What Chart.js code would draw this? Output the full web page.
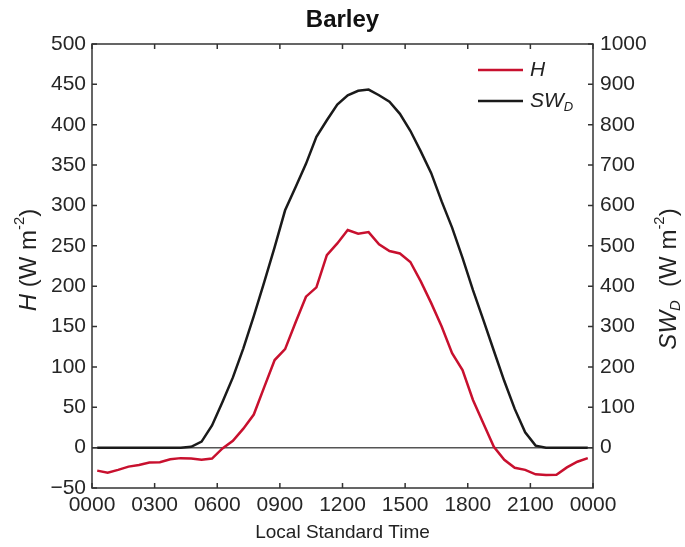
<!DOCTYPE html>
<html>
<head>
<meta charset="utf-8">
<script src="https://cdn.jsdelivr.net/npm/chart.js@4.4.1/dist/chart.umd.min.js"></script>
<style>
  body { margin: 0; background: #fff; }
  #chart { display: block; }
</style>
</head>
<body>
<canvas id="chart" width="685" height="547"></canvas>
<script>
// half-hourly averages (hour of day, mid-interval)
const times = [0.25, 0.75, 1.25, 1.75, 2.25, 2.75, 3.25, 3.75, 4.25, 4.75, 5.25, 5.75,
  6.25, 6.75, 7.25, 7.75, 8.25, 8.75, 9.25, 9.75, 10.25, 10.75, 11.25, 11.75,
  12.25, 12.75, 13.25, 13.75, 14.25, 14.75, 15.25, 15.75, 16.25, 16.75, 17.25, 17.75,
  18.25, 18.75, 19.25, 19.75, 20.25, 20.75, 21.25, 21.75, 22.25, 22.75, 23.25, 23.75];

// sensible heat flux H (W m-2), left axis
const hFlux = [-28.5, -31, -27.5, -23.5, -21.5, -18.5, -18, -14.5, -13, -13.5, -15, -13.5,
  -1, 8.5, 23.5, 41, 75, 108.5, 122, 155, 187, 198.5, 238.5, 253,
  269.5, 265, 267, 252, 243.5, 240.5, 230, 206, 179, 150, 117, 96,
  59, 30, 1, -15, -25, -27.5, -33, -34, -33.5, -24.5, -17.5, -13];

// downwelling shortwave SW_D (W m-2), right axis
const swDown = [0, 0, 0, 0, 0, 0, 0, 0, 0, 2, 15, 55,
  113, 174, 246, 326, 410, 497, 588, 645, 703, 770, 811, 850,
  873, 884, 887, 873, 857, 827, 785, 734, 680, 610, 545, 470,
  390, 316, 240, 165, 96, 38, 5, 0, 0, 0, 0, 0];

const xTickLabels = ['0000', '0300', '0600', '0900', '1200', '1500', '1800', '2100', '0000'];

const FONT = '"Liberation Sans", Arial, Helvetica, sans-serif';
const RED = '#c8102e';
const AXIS = '#333333';

// draw text made of pieces (italic / superscript / subscript), centred at x,y
function richText(ctx, parts, x, y, size) {
  const fontFor = p => (p.i ? 'italic ' : '') + (p.sup || p.sub ? size * 0.62 : size) + 'px ' + FONT;
  let total = 0;
  parts.forEach(p => { ctx.font = fontFor(p); p.w = ctx.measureText(p.t).width; total += p.w; });
  let cx = x - total / 2;
  ctx.textAlign = 'left';
  ctx.textBaseline = 'middle';
  parts.forEach(p => {
    ctx.font = fontFor(p);
    let dy = 0;
    if (p.sup) dy = -size * 0.38;
    if (p.sub) dy = size * 0.3;
    ctx.fillText(p.t, cx, y + dy);
    cx += p.w;
  });
  return total;
}

const extras = {
  id: 'extras',
  beforeDatasetsDraw(chart) {
    const { ctx, chartArea: a, scales } = chart;
    const y0 = scales.y.getPixelForValue(0);
    ctx.save();
    ctx.strokeStyle = '#555';
    ctx.lineWidth = 1.5;
    ctx.beginPath();
    ctx.moveTo(a.left, y0);
    ctx.lineTo(a.right, y0);
    ctx.stroke();
    ctx.restore();
  },
  afterDraw(chart) {
    const { ctx, chartArea: a, scales } = chart;
    const tick = 5;
    ctx.save();
    ctx.strokeStyle = AXIS;
    ctx.lineWidth = 1.5;
    ctx.strokeRect(a.left, a.top, a.right - a.left, a.bottom - a.top);
    ctx.beginPath();
    scales.x.ticks.forEach(t => {
      const px = scales.x.getPixelForValue(t.value);
      ctx.moveTo(px, a.bottom); ctx.lineTo(px, a.bottom - tick);
      ctx.moveTo(px, a.top); ctx.lineTo(px, a.top + tick);
    });
    scales.y.ticks.forEach(t => {
      const py = scales.y.getPixelForValue(t.value);
      ctx.moveTo(a.left, py); ctx.lineTo(a.left + tick, py);
    });
    scales.y2.ticks.forEach(t => {
      if (t.value < 0) return;
      const py = scales.y2.getPixelForValue(t.value);
      ctx.moveTo(a.right, py); ctx.lineTo(a.right - tick, py);
    });
    ctx.stroke();

    // axis titles
    ctx.fillStyle = '#222';
    ctx.save();
    ctx.translate(29, 260);
    ctx.rotate(-Math.PI / 2);
    richText(ctx, [{ t: 'H', i: true }, { t: ' (W m' }, { t: '-2', sup: true }, { t: ')' }], 0, 0, 24);
    ctx.restore();
    ctx.save();
    ctx.translate(669, 279);
    ctx.rotate(-Math.PI / 2);
    richText(ctx, [{ t: 'SW', i: true }, { t: 'D', i: true, sub: true }, { t: '  (W m' }, { t: '-2', sup: true }, { t: ')' }], 0, 0, 24);
    ctx.restore();

    // legend
    const legend = [
      { color: RED, parts: [{ t: 'H', i: true }], y: 70 },
      { color: '#1a1a1a', parts: [{ t: 'SW', i: true }, { t: 'D', i: true, sub: true }], y: 101 }
    ];
    legend.forEach(l => {
      ctx.strokeStyle = l.color;
      ctx.lineWidth = 2.5;
      ctx.beginPath();
      ctx.moveTo(478, l.y); ctx.lineTo(523, l.y);
      ctx.stroke();
      ctx.fillStyle = '#222';
      let w = 0;
      l.parts.forEach(p => {
        ctx.font = 'italic ' + (p.sub ? 21 * 0.62 : 21) + 'px ' + FONT;
        w += ctx.measureText(p.t).width;
      });
      richText(ctx, l.parts, 530 + w / 2, l.y, 21);
    });
    ctx.restore();
  }
};

new Chart(document.getElementById('chart'), {
  type: 'line',
  data: {
    datasets: [
      {
        label: 'H',
        data: times.map((t, i) => ({ x: t, y: hFlux[i] })),
        yAxisID: 'y',
        borderColor: RED,
        borderWidth: 2.5,
        pointRadius: 0,
        tension: 0,
        fill: false
      },
      {
        label: 'SWD',
        data: times.map((t, i) => ({ x: t, y: swDown[i] })),
        yAxisID: 'y2',
        borderColor: '#1a1a1a',
        borderWidth: 2.5,
        pointRadius: 0,
        tension: 0,
        fill: false
      }
    ]
  },
  options: {
    responsive: false,
    animation: false,
    layout: { padding: 0 },
    plugins: {
      legend: { display: false },
      tooltip: { enabled: false },
      title: {
        display: true,
        text: 'Barley',
        color: '#111',
        font: { family: FONT, size: 24, weight: 'bold', lineHeight: 1.2 },
        padding: { top: 6, bottom: 9.2 }
      }
    },
    scales: {
      x: {
        type: 'linear',
        min: 0,
        max: 24,
        grid: { display: false, drawTicks: false },
        border: { display: false },
        ticks: {
          stepSize: 3,
          padding: 5,
          color: '#262626',
          font: { family: FONT, size: 21 },
          maxRotation: 0,
          callback: v => xTickLabels[v / 3]
        },
        title: {
          display: true,
          text: 'Local Standard Time',
          color: '#222',
          font: { family: FONT, size: 19 },
          padding: { top: 0, bottom: 3 }
        },
        afterFit: s => { s.height = 59; }
      },
      y: {
        position: 'left',
        min: -50,
        max: 500,
        grid: { display: false, drawTicks: false },
        border: { display: false },
        ticks: {
          stepSize: 50,
          padding: 6,
          color: '#262626',
          font: { family: FONT, size: 21 },
          callback: v => v < 0 ? '\u2212' + Math.abs(v) : v
        },
        afterFit: s => { s.width = 92; }
      },
      y2: {
        position: 'right',
        min: -100,
        max: 1000,
        grid: { display: false, drawTicks: false },
        border: { display: false },
        ticks: {
          stepSize: 100,
          padding: 7,
          color: '#262626',
          font: { family: FONT, size: 21 },
          callback: v => v < 0 ? '' : v
        },
        afterFit: s => { s.width = 92; }
      }
    }
  },
  plugins: [extras]
});
</script>
</body>
</html>
